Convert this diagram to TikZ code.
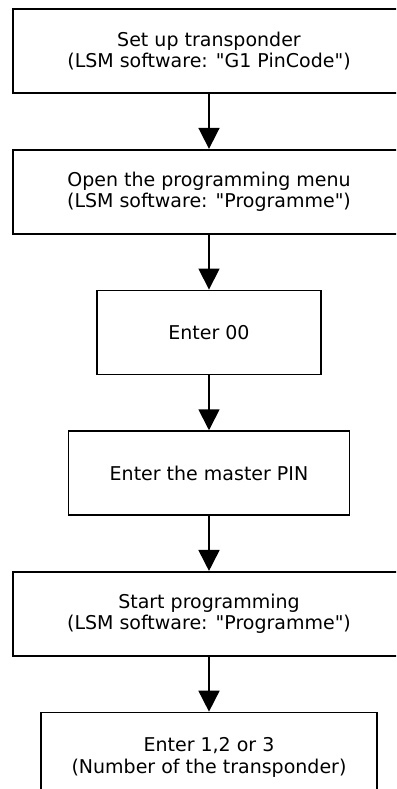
\documentclass[tikz,border=0pt]{standalone}
\usepackage{fontspec}
\setmainfont{DejaVu Sans}[Ligatures=TeXOff]
\usetikzlibrary{arrows.meta}
\usetikzlibrary{positioning}

\begin{document}
\begin{tikzpicture}[x=1pt,y=1pt]
  \tikzset{stepbox/.style = {shape=rectangle,draw,line width=1.7pt,minimum height=84pt,align=center,inner sep=2pt,
      font=\fontsize{19}{21.5}\selectfont}}
  \tikzset{flow/.style = {line width=1.7pt,-{Triangle[width=21pt,length=21pt]}}}

  \clip (0,0) rectangle (396,-789);

	\node[stepbox,minimum width=392pt] (setup) at (209,-51) {Set up transponder\\(LSM software: "G1 PinCode")};
	\node[stepbox,minimum width=392pt,below=55pt of setup] (menu) {Open the programming menu\\(LSM software: "Programme")};
	\node[stepbox,minimum width=224pt,below=55pt of menu] (zero) {Enter 00};
	\node[stepbox,minimum width=281pt,below=55pt of zero] (pin) {Enter the master PIN};
	\node[stepbox,minimum width=392pt,below=55pt of pin] (start) {Start programming\\(LSM software: "Programme")};
	\node[stepbox,minimum width=336pt,minimum height=90pt,below=55pt of start] (number) {Enter 1,2 or 3\\(Number of the transponder)};

       \foreach \from/\to in {setup/menu, menu/zero, zero/pin, pin/start, start/number}
    \draw[flow] (\from) -- (\to);
\end{tikzpicture}
\end{document}
